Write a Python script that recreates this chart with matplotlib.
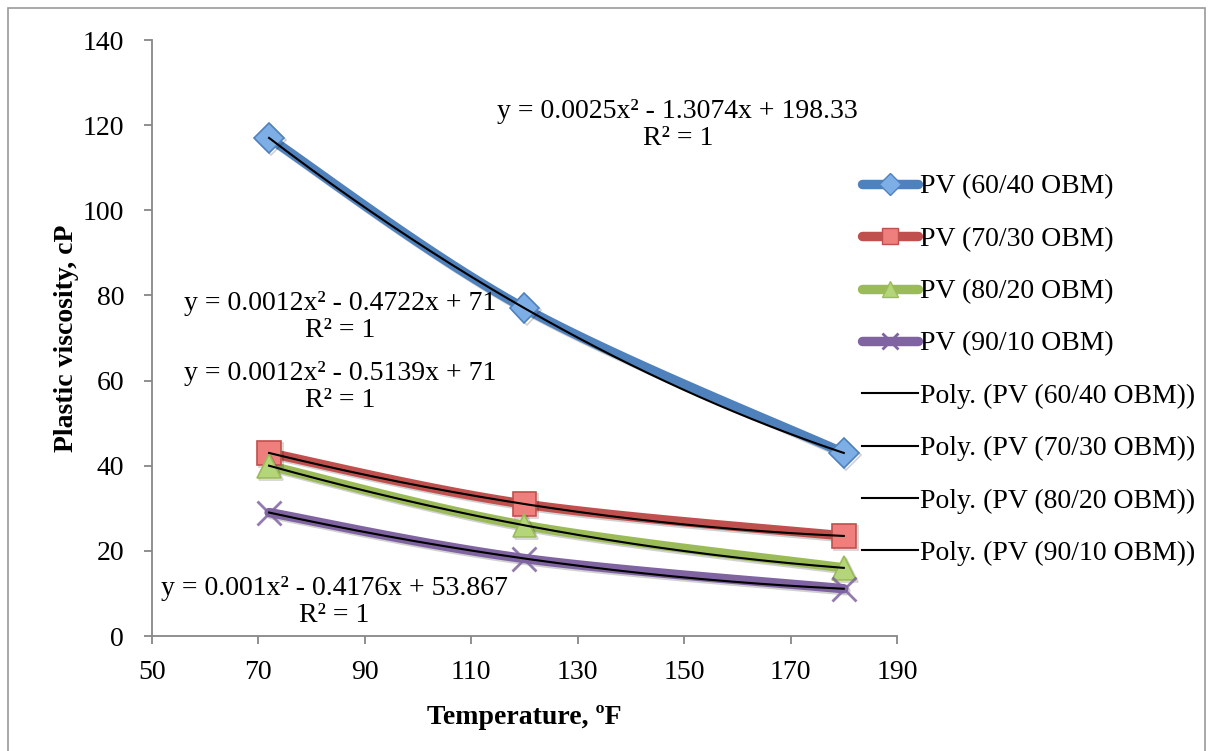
import numpy as np
import matplotlib
matplotlib.use("Agg")
import matplotlib.pyplot as plt
from matplotlib.lines import Line2D
from matplotlib import patheffects as pe

plt.rcParams['font.family'] = ['Liberation Serif', 'DejaVu Serif']

temperature = [72, 120, 180]
pv_60_40 = [117, 77, 43]
pv_70_30 = [43, 31, 23.5]
pv_80_20 = [40, 26, 16]
pv_90_10 = [29, 18.2, 11.1]

series_labels = ["PV (60/40 OBM)", "PV (70/30 OBM)", "PV (80/20 OBM)", "PV (90/10 OBM)"]
trend_labels = ["Poly. (PV (60/40 OBM))", "Poly. (PV (70/30 OBM))",
                "Poly. (PV (80/20 OBM))", "Poly. (PV (90/10 OBM))"]
equations = ["y = 0.0025x\u00b2 - 1.3074x + 198.33\nR\u00b2 = 1",
             "y = 0.0012x\u00b2 - 0.4722x + 71\nR\u00b2 = 1",
             "y = 0.0012x\u00b2 - 0.5139x + 71\nR\u00b2 = 1",
             "y = 0.001x\u00b2 - 0.4176x + 53.867\nR\u00b2 = 1"]
x_ticks = [50, 70, 90, 110, 130, 150, 170, 190]
y_ticks = [0, 20, 40, 60, 80, 100, 120, 140]

line_colors = ["#4F81BD", "#C0504D", "#9BBB59", "#8064A2"]
face_colors = ["#7EAEE6", "#EE7F7C", "#B5D57A", "#8064A2"]
markers = ["D", "s", "^", "x"]
marker_sizes = [15, 17, 17, 17]
eq_pos = [(148.8, 120.0), (85.3, 75.0), (85.3, 58.5), (84.2, 8.0)]

FS = 20


def smooth_curve(xs, ys, n=60):
    """Cubic Bezier smoothing through the points (Catmull-Rom style)."""
    p = np.column_stack([xs, ys]).astype(float)
    ext = np.vstack([p[0], p, p[-1]])
    out = []
    for i in range(len(p) - 1):
        p0, p1 = ext[i + 1], ext[i + 2]
        c1 = p0 + (ext[i + 2] - ext[i]) / 6.0
        c2 = p1 - (ext[i + 3] - ext[i + 1]) / 6.0
        t = np.linspace(0, 1, n)[:, None]
        seg = ((1 - t) ** 3) * p0 + 3 * ((1 - t) ** 2) * t * c1 + 3 * (1 - t) * t ** 2 * c2 + t ** 3 * p1
        out.append(seg if i == 0 else seg[1:])
    seg = np.vstack(out)
    return seg[:, 0], seg[:, 1]


fig = plt.figure(figsize=(12.1, 7.51), dpi=100)
ax = fig.add_axes([152 / 1210, 1 - 636 / 751, (897 - 152) / 1210, (636 - 40) / 751])

all_series = [pv_60_40, pv_70_30, pv_80_20, pv_90_10]
shadow = [pe.SimpleLineShadow(offset=(1.5, -1.5), alpha=0.18, shadow_color='k'), pe.Normal()]

for vals, lc, fc, m, ms in zip(all_series, line_colors, face_colors, markers, marker_sizes):
    sx, sy = smooth_curve(temperature, vals)
    ax.plot(sx, sy, color=lc, lw=6.8, solid_capstyle='round', zorder=2, path_effects=shadow)
    if m == "x":
        ax.plot(temperature, vals, ls='none', marker=m, ms=ms, mew=2.0, color=lc,
                zorder=3, alpha=0.85)
    else:
        ax.plot(temperature, vals, ls='none', marker=m, ms=ms, mfc=fc, mec=lc, mew=1.2,
                zorder=3, path_effects=shadow)

for vals in all_series:
    coef = np.polyfit(temperature, vals, 2)
    tx = np.linspace(min(temperature), max(temperature), 200)
    ax.plot(tx, np.polyval(coef, tx), color='black', lw=1.5, zorder=4)

for txt, (ex, ey) in zip(equations, eq_pos):
    ax.text(ex, ey, txt, ha='center', va='center', fontsize=FS, linespacing=1.1, zorder=5)

ax.set_xlim(50, 190)
ax.set_ylim(0, 140)
ax.set_xticks(x_ticks)
ax.set_yticks(y_ticks)
ax.tick_params(axis='both', direction='out', length=6, width=1.3, color='#878787',
               labelsize=FS)
ax.tick_params(axis='y', pad=14)
ax.tick_params(axis='x', pad=11)
for side in ['top', 'right']:
    ax.spines[side].set_visible(False)
for side in ['left', 'bottom']:
    ax.spines[side].set_color('#878787')
    ax.spines[side].set_linewidth(1.3)

ax.set_xlabel("Temperature, \u00baF", fontsize=FS, fontweight='bold', labelpad=15)
ax.set_ylabel("Plastic viscosity, cP", fontsize=FS, fontweight='bold', labelpad=3)

handles = []
for lc, fc, m, ms in zip(line_colors, face_colors, markers, marker_sizes):
    if m == "x":
        handles.append(Line2D([], [], color=lc, lw=6.8, marker=m, ms=11, mew=2.0,
                              solid_capstyle='round'))
    else:
        handles.append(Line2D([], [], color=lc, lw=6.8, marker=m, ms=11, mfc=fc, mec=lc,
                              mew=1.0, solid_capstyle='round'))
for _ in trend_labels:
    handles.append(Line2D([], [], color='black', lw=1.5))

fig.legend(handles, series_labels + trend_labels, loc='upper left',
           bbox_to_anchor=(862 / 1210, 1 - 174 / 751), frameon=False, fontsize=FS,
           handlelength=2.0, handletextpad=0.08, labelspacing=0.97, borderpad=0,
           borderaxespad=0, markerscale=1.0)

fig.patches.append(plt.Rectangle((8 / 1210, -0.01), (1205 - 8) / 1210, 1 - 8 / 751 + 0.01,
                                 transform=fig.transFigure, fill=False,
                                 edgecolor='#9a9a9a', lw=1.2))

fig.savefig("out.png", dpi=100)
